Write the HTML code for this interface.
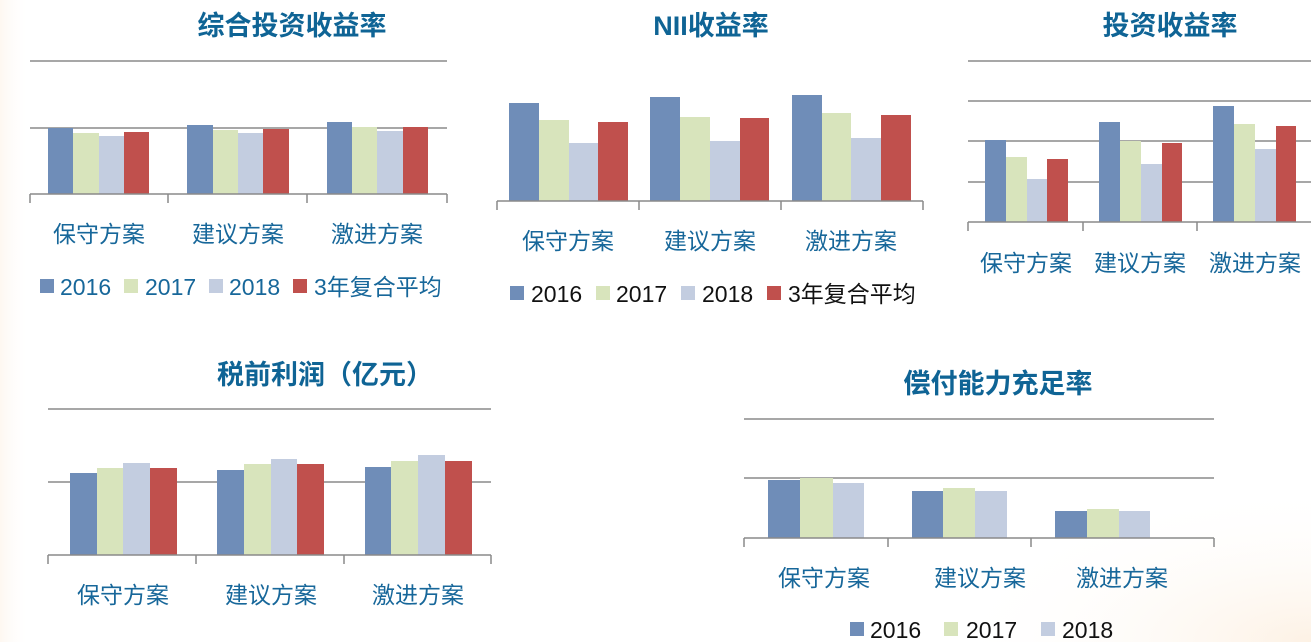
<!DOCTYPE html>
<html><head><meta charset="utf-8"><style>
html,body{margin:0;padding:0;background:#fff}
svg{display:block}
text{font-family:"Liberation Sans","Noto Sans CJK SC",sans-serif}
.t{fill:#0f6495;font-weight:bold;font-size:27px}
.c{fill:#17679a;font-size:23px}
.l{fill:#17679a;font-size:23px}
.k{fill:#111;font-size:23px}
.g{stroke:#8a8a8a;stroke-width:1.5}
.a{fill:#6f8db8}.b{fill:#d8e4bc}.d{fill:#c3cde0}.r{fill:#c0504d}
</style></head><body>
<svg width="1311" height="642" xmlns="http://www.w3.org/2000/svg">
<defs><radialGradient id="bg" cx="1" cy="1" r="0.6"><stop offset="0" stop-color="#f6c894" stop-opacity="0.25"/><stop offset="1" stop-color="#fff" stop-opacity="0"/></radialGradient>
<linearGradient id="lg" x1="0" x2="1"><stop offset="0" stop-color="#f8d9b8" stop-opacity="0.2"/><stop offset="1" stop-color="#fff" stop-opacity="0"/></linearGradient></defs>
<rect x="0" y="0" width="30" height="642" fill="url(#lg)"/>
<rect x="700" y="380" width="611" height="262" fill="url(#bg)"/>

<!-- Chart 1 -->
<text class="t" x="292" y="35" text-anchor="middle">综合投资收益率</text>
<line class="g" x1="30" y1="61" x2="447" y2="61"/>
<line class="g" x1="30" y1="128" x2="447" y2="128"/>
<rect class="a" x="48" y="128" width="25" height="66"/><rect class="b" x="73" y="133" width="26" height="61"/><rect class="d" x="99" y="136" width="25" height="58"/><rect class="r" x="124" y="132" width="25" height="62"/>
<rect class="a" x="187" y="125" width="26" height="69"/><rect class="b" x="213" y="130" width="25" height="64"/><rect class="d" x="238" y="133" width="25" height="61"/><rect class="r" x="263" y="129" width="26" height="65"/>
<rect class="a" x="327" y="122" width="25" height="72"/><rect class="b" x="352" y="127" width="25" height="67"/><rect class="d" x="377" y="131" width="26" height="63"/><rect class="r" x="403" y="127" width="25" height="67"/>
<line class="g" x1="30" y1="194" x2="447" y2="194"/>
<path class="g" fill="none" d="M30 194V203M168 194V203M307 194V203M447 194V203"/>
<text class="c" x="99" y="242" text-anchor="middle">保守方案</text><text class="c" x="238" y="242" text-anchor="middle">建议方案</text><text class="c" x="377" y="242" text-anchor="middle">激进方案</text>
<rect class="a" x="40" y="279" width="14" height="14"/><text class="l" x="60" y="295">2016</text>
<rect class="b" x="124" y="279" width="14" height="14"/><text class="l" x="145" y="295">2017</text>
<rect class="d" x="209" y="279" width="14" height="14"/><text class="l" x="229" y="295">2018</text>
<rect class="r" x="293" y="279" width="14" height="14"/><text class="l" x="314" y="295">3年复合平均</text>

<!-- Chart 2 -->
<text class="t" x="711" y="35" text-anchor="middle">NII收益率</text>
<rect class="a" x="509" y="103" width="30" height="98"/><rect class="b" x="539" y="120" width="30" height="81"/><rect class="d" x="569" y="143" width="29" height="58"/><rect class="r" x="598" y="122" width="30" height="79"/>
<rect class="a" x="650" y="97" width="30" height="104"/><rect class="b" x="680" y="117" width="30" height="84"/><rect class="d" x="710" y="141" width="30" height="60"/><rect class="r" x="740" y="118" width="29" height="83"/>
<rect class="a" x="792" y="95" width="30" height="106"/><rect class="b" x="822" y="113" width="29" height="88"/><rect class="d" x="851" y="138" width="30" height="63"/><rect class="r" x="881" y="115" width="30" height="86"/>
<line class="g" x1="497" y1="201" x2="923" y2="201"/>
<path class="g" fill="none" d="M497 201V210M639 201V210M781 201V210M923 201V210"/>
<text class="c" x="568" y="249" text-anchor="middle">保守方案</text><text class="c" x="710" y="249" text-anchor="middle">建议方案</text><text class="c" x="851" y="249" text-anchor="middle">激进方案</text>
<rect class="a" x="510" y="286" width="14" height="14"/><text class="k" x="531" y="302">2016</text>
<rect class="b" x="596" y="286" width="14" height="14"/><text class="k" x="616" y="302">2017</text>
<rect class="d" x="681" y="286" width="14" height="14"/><text class="k" x="702" y="302">2018</text>
<rect class="r" x="767" y="286" width="14" height="14"/><text class="k" x="788" y="302">3年复合平均</text>

<!-- Chart 3 -->
<text class="t" x="1170" y="35" text-anchor="middle">投资收益率</text>
<line class="g" x1="968" y1="61" x2="1311" y2="61"/><line class="g" x1="968" y1="101" x2="1311" y2="101"/><line class="g" x1="968" y1="141" x2="1311" y2="141"/><line class="g" x1="968" y1="182" x2="1311" y2="182"/>
<rect class="a" x="985" y="140" width="21" height="82"/><rect class="b" x="1006" y="157" width="21" height="65"/><rect class="d" x="1027" y="179" width="20" height="43"/><rect class="r" x="1047" y="159" width="21" height="63"/>
<rect class="a" x="1099" y="122" width="21" height="100"/><rect class="b" x="1120" y="141" width="21" height="81"/><rect class="d" x="1141" y="164" width="21" height="58"/><rect class="r" x="1162" y="143" width="20" height="79"/>
<rect class="a" x="1213" y="106" width="21" height="116"/><rect class="b" x="1234" y="124" width="21" height="98"/><rect class="d" x="1255" y="149" width="21" height="73"/><rect class="r" x="1276" y="126" width="20" height="96"/>
<line class="g" x1="968" y1="222" x2="1311" y2="222"/>
<path class="g" fill="none" d="M968 222V231M1083 222V231M1197 222V231"/>
<text class="c" x="1026" y="271" text-anchor="middle">保守方案</text><text class="c" x="1140" y="271" text-anchor="middle">建议方案</text><text class="c" x="1255" y="271" text-anchor="middle">激进方案</text>

<!-- Chart 4 -->
<text class="t" x="325" y="384" text-anchor="middle">税前利润（亿元）</text>
<line class="g" x1="48" y1="409" x2="491" y2="409"/><line class="g" x1="48" y1="482" x2="491" y2="482"/>
<rect class="a" x="70" y="473" width="27" height="82"/><rect class="b" x="97" y="468" width="26" height="87"/><rect class="d" x="123" y="463" width="27" height="92"/><rect class="r" x="150" y="468" width="27" height="87"/>
<rect class="a" x="217" y="470" width="27" height="85"/><rect class="b" x="244" y="464" width="27" height="91"/><rect class="d" x="271" y="459" width="26" height="96"/><rect class="r" x="297" y="464" width="27" height="91"/>
<rect class="a" x="365" y="467" width="26" height="88"/><rect class="b" x="391" y="461" width="27" height="94"/><rect class="d" x="418" y="455" width="27" height="100"/><rect class="r" x="445" y="461" width="27" height="94"/>
<line class="g" x1="48" y1="555" x2="491" y2="555"/>
<path class="g" fill="none" d="M48 555V564M196 555V564M344 555V564M491 555V564"/>
<text class="c" x="123" y="603" text-anchor="middle">保守方案</text><text class="c" x="271" y="603" text-anchor="middle">建议方案</text><text class="c" x="418" y="603" text-anchor="middle">激进方案</text>

<!-- Chart 5 -->
<text class="t" x="998" y="393" text-anchor="middle">偿付能力充足率</text>
<line class="g" x1="744" y1="419" x2="1214" y2="419"/><line class="g" x1="744" y1="478" x2="1214" y2="478"/>
<rect class="a" x="768" y="480" width="32" height="58"/><rect class="b" x="800" y="478" width="33" height="60"/><rect class="d" x="833" y="483" width="31" height="55"/>
<rect class="a" x="912" y="491" width="31" height="47"/><rect class="b" x="943" y="488" width="32" height="50"/><rect class="d" x="975" y="491" width="32" height="47"/>
<rect class="a" x="1055" y="511" width="32" height="27"/><rect class="b" x="1087" y="509" width="32" height="29"/><rect class="d" x="1119" y="511" width="31" height="27"/>
<line class="g" x1="744" y1="538" x2="1214" y2="538"/>
<path class="g" fill="none" d="M744 538V547M888 538V547M1031 538V547M1214 538V547"/>
<text class="c" x="824" y="586" text-anchor="middle">保守方案</text><text class="c" x="980" y="586" text-anchor="middle">建议方案</text><text class="c" x="1122" y="586" text-anchor="middle">激进方案</text>
<rect class="a" x="850" y="622" width="14" height="14"/><text class="k" x="870" y="638">2016</text>
<rect class="b" x="944" y="622" width="14" height="14"/><text class="k" x="966" y="638">2017</text>
<rect class="d" x="1041" y="622" width="14" height="14"/><text class="k" x="1062" y="638">2018</text>
</svg>
</body></html>
